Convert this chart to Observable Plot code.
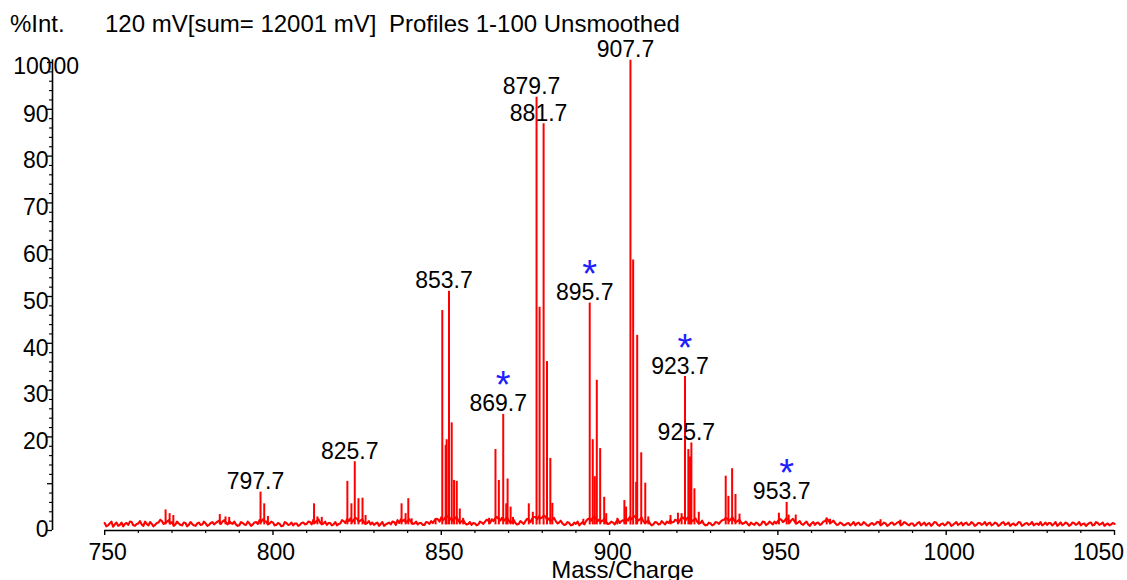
<!DOCTYPE html>
<html>
<head>
<meta charset="utf-8">
<script src="https://cdn.jsdelivr.net/npm/d3@7"></script>
<script src="https://cdn.jsdelivr.net/npm/@observablehq/plot@0.6"></script>
<style>
  body { margin: 0; background: #fff; font-family: "Liberation Sans", Arial, sans-serif; }
  #title { position: relative; width: 1127px; height: 40px; font-size: 24px; line-height: 24px; color: #000; }
  #title span { position: absolute; top: 11.5px; white-space: pre; }
  #chart svg { display: block; overflow: visible; }
</style>
</head>
<body>
<div id="title"><span style="left:10px">%Int.</span><span style="left:105px">120 mV[sum= 12001 mV]</span><span style="left:389px">Profiles 1-100 Unsmoothed</span></div>
<div id="chart"></div>
<script>
// ---- axis ticks ----
const xMajorTicks = [750, 800, 850, 900, 950, 1000, 1050];
const xLabelTicks = [750, 800, 850, 900, 950, 1000];
const xLastTick = [1050];
const xMinorTicks = [760, 770, 780, 790, 810, 820, 830, 840, 860, 870, 880, 890, 910, 920, 930, 940, 960, 970, 980, 990, 1010, 1020, 1030, 1040];
const yLabelTicks = [20, 30, 40, 50, 60, 70, 80, 90];
const yTopTick = [100];
const yZeroTick = [0];
const yMajorTicks = [0, 10, 20, 30, 40, 50, 60, 70, 80, 90, 100];
const yMinorTicks = [2, 4, 6, 8, 12, 14, 16, 18, 22, 24, 26, 28, 32, 34, 36, 38, 42, 44, 46, 48, 52, 54, 56, 58, 62, 64, 66, 68, 72, 74, 76, 78, 82, 84, 86, 88, 92, 94, 96, 98];

// ---- peaks (m/z, % intensity) ----
const peakMz = [768.1, 769.3, 770.4, 784.2, 785.9, 787.0, 796.3, 797.4, 798.5, 812.2, 813.2, 814.5,
  822.1, 823.3, 824.3, 825.4, 826.6, 827.5, 838.2, 839.4, 840.2, 841.2, 848.3,
  850.3, 851.3, 851.6, 852.3, 853.1, 853.8, 854.6, 855.5, 856.5, 864.2,
  866.1, 867.1, 868.4, 869.3, 869.7, 870.6, 871.3, 876.0, 877.2,
  878.3, 879.2, 880.4, 881.4, 882.4, 883.0, 892.2,
  894.1, 895.0, 895.6, 896.2, 897.2, 898.4, 899.0, 902.3, 904.4, 904.9,
  906.2, 907.0, 907.9, 908.2, 909.4, 910.6, 911.5, 918.1, 920.3, 921.4,
  922.4, 923.4, 923.9, 924.3, 925.2, 926.5, 934.5, 935.3, 936.4, 937.4, 938.6,
  950.3, 952.6, 953.2, 955.3, 964.5, 965.5, 980.5, 986.4];
const peakInt = [4.4, 3.6, 3.2, 3.4, 2.9, 2.8, 8.2, 5.7, 3.0, 5.7, 2.9, 2.8,
  10.5, 5.7, 14.7, 6.8, 6.9, 3.2, 5.7, 3.6, 6.8, 2.5, 2.5,
  47.0, 18.2, 19.4, 51.1, 23.0, 10.7, 10.5, 4.6, 2.6, 2.6,
  17.3, 10.7, 24.8, 5.7, 11.0, 5.0, 2.8, 5.7, 3.9,
  92.6, 47.7, 86.9, 36.1, 15.4, 5.8, 2.4,
  48.6, 19.4, 11.5, 32.1, 17.5, 7.1, 3.6, 2.6, 6.4, 5.0,
  100.5, 57.8, 10.3, 41.7, 16.6, 10.1, 2.9, 3.2, 3.7, 3.6,
  32.9, 17.3, 15.7, 18.7, 8.9, 3.9, 11.6, 7.3, 13.2, 7.7, 3.5,
  3.7, 6.0, 3.3, 3.3, 2.7, 2.4, 2.3, 2.2];

// ---- baseline noise: values at whole m/z units (750..1050) ----
const noiseStart = 750;
const noiseInt = [
  1.6,1.1,1.9,1.3,1.0,1.7,1.4,1.2,1.8,1.0,
  1.5,1.3,1.9,1.1,1.4,1.2,1.7,2.0,1.6,2.2,
  1.8,1.3,1.5,1.1,1.6,1.2,1.4,1.0,1.7,1.3,
  1.5,1.2,1.8,1.6,2.1,1.9,1.7,2.0,1.4,1.3,
  1.1,1.6,1.2,1.5,1.3,1.8,2.2,2.4,1.9,1.5,
  1.7,1.2,1.4,1.0,1.6,1.3,1.1,1.5,1.2,1.7,
  1.4,1.8,2.3,2.0,1.7,1.5,1.2,1.6,1.3,1.1,
  1.5,2.0,2.4,2.6,2.3,2.5,2.1,1.8,1.6,1.3,
  1.2,1.7,1.4,1.0,1.5,1.3,1.8,2.2,2.4,2.3,
  2.0,1.9,1.5,1.3,1.6,1.2,1.7,2.0,2.2,2.4,
  2.8,2.6,3.0,2.7,2.5,2.2,1.9,1.6,1.4,1.2,
  1.5,1.3,1.7,1.9,2.1,2.4,2.6,2.5,2.7,2.4,
  2.2,1.9,1.6,1.4,1.7,2.0,2.3,2.5,2.9,3.0,
  2.8,2.9,2.6,2.3,2.0,1.7,1.5,1.3,1.6,1.2,
  1.4,1.1,1.8,2.0,2.6,2.7,2.5,2.4,2.1,1.8,
  1.5,1.7,1.9,1.6,2.2,2.5,2.9,2.8,2.6,2.4,
  2.0,1.8,1.5,1.3,1.7,1.4,1.6,1.9,2.2,1.8,
  2.1,2.3,2.7,2.6,2.5,2.2,1.9,1.6,1.4,1.2,
  1.5,1.3,1.7,1.9,2.3,2.5,2.4,2.2,2.0,1.8,
  1.6,1.4,1.7,1.2,1.5,1.3,1.8,1.4,1.6,1.9,
  2.0,2.3,2.1,2.4,2.2,1.9,1.7,1.4,1.6,1.3,
  1.5,1.2,1.7,1.4,2.0,2.2,1.8,1.6,1.3,1.5,
  1.2,1.6,1.4,1.1,1.7,1.3,1.5,1.0,1.6,1.4,
  1.8,1.3,1.5,1.2,1.7,1.4,1.9,1.3,1.6,1.1,
  1.5,1.2,1.8,1.4,1.1,1.6,1.3,1.7,1.0,1.5,
  1.3,1.6,1.2,1.8,1.4,1.1,1.7,1.3,1.5,1.2,
  1.6,1.4,1.1,1.7,1.3,1.5,1.2,1.8,1.4,1.0,
  1.5,1.3,1.7,1.2,1.6,1.4,1.1,1.5,1.8,1.3,
  1.2,1.6,1.4,1.0,1.7,1.3,1.5,1.2,1.6,1.4,
  1.1,1.5,1.3,1.7,1.2,1.6,1.4,1.0,1.5,1.3,
  1.4];
// ---- baseline noise: values at half m/z units (750.5..1049.5) ----
const noiseHalfInt = [
  0.9,1.5,0.8,1.7,1.2,0.9,1.6,1.9,1.1,1.4,
  2.0,1.0,1.4,1.8,0.9,1.6,2.3,1.4,1.9,1.5,
  1.0,1.9,1.2,1.7,0.9,1.8,1.1,1.5,1.2,1.9,
  1.0,1.6,1.3,1.9,1.4,2.2,1.3,1.6,1.9,1.0,
  1.8,1.3,1.9,1.0,1.7,1.4,1.8,2.0,1.3,1.9,
  1.1,1.6,0.9,1.8,1.2,1.7,1.5,1.0,1.6,1.3,
  1.9,1.3,1.7,2.4,1.3,1.9,1.6,1.1,1.8,1.4,
  2.2,1.6,2.0,1.8,2.7,1.9,2.4,1.4,2.0,1.7,
  1.5,1.0,1.8,1.3,1.7,1.9,1.2,1.6,2.0,1.7,
  2.4,1.4,1.9,1.6,1.2,1.8,1.4,1.6,2.5,1.9,
  2.2,3.1,2.3,2.0,2.9,1.7,2.3,1.3,1.8,1.6,
  1.1,1.9,1.4,2.3,1.6,2.0,2.9,2.1,2.0,2.8,
  1.7,2.3,1.3,2.0,1.4,2.5,1.8,2.9,2.4,2.6,
  3.2,2.2,2.0,2.7,1.5,2.1,1.2,1.8,1.1,1.7,
  1.9,1.5,1.3,2.4,2.1,3.0,2.0,1.9,2.6,1.4,
  1.9,1.3,2.3,2.0,1.8,2.1,2.4,3.1,2.1,2.8,
  1.6,2.2,1.1,1.8,1.3,2.0,1.3,1.6,1.7,2.3,
  1.7,2.8,2.1,2.9,2.0,2.6,1.5,2.1,1.1,1.7,
  1.1,1.8,1.4,2.2,2.7,2.0,2.8,1.8,2.3,1.4,
  1.9,1.1,1.4,1.7,1.1,1.9,1.2,1.9,1.3,1.5,
  2.5,1.8,2.6,1.7,2.5,1.5,2.0,1.2,1.9,1.0,
  1.8,1.6,1.2,1.9,2.5,1.6,2.1,1.2,1.7,1.1,
  1.5,1.1,1.8,1.5,1.2,1.8,1.1,1.4,1.2,1.8,
  1.1,1.7,1.0,1.6,1.2,1.7,1.1,1.8,1.3,1.5,
  1.0,1.6,1.1,1.7,1.4,1.0,1.8,1.2,1.4,1.1,
  1.8,1.0,1.5,1.2,1.7,1.5,1.2,1.8,1.0,1.6,
  1.2,1.8,1.5,1.1,1.7,1.0,1.6,1.2,1.7,1.3,
  1.1,1.8,1.0,1.5,1.2,1.8,1.4,1.2,1.1,1.7,
  1.6,1.1,1.8,1.3,1.1,1.7,1.0,1.7,1.2,1.8,
  1.4,1.0,1.6,1.1,1.8,1.2,1.7,1.3,1.1,1.6];

// ---- peak annotations ----
const labelText = ["797.7", "825.7", "853.7", "869.7", "879.7", "881.7", "895.7", "907.7", "923.7", "925.7", "953.7"];
const labelMz   = [796.3, 824.3, 852.3, 868.4, 878.3, 880.4, 894.1, 906.2, 922.4, 924.3, 952.6];
const labelInt  = [8.2, 14.7, 51.1, 24.8, 92.6, 86.9, 48.6, 100.5, 32.9, 18.7, 6.0];
const starred   = ["869.7", "895.7", "923.7", "953.7"];

const xDomain = [734.5, 1050];
const yMax = 100.6;

const peaks = peakMz.map((m, i) => ({m, h: peakInt[i]}));
const noise = noiseInt.map((v, i) => ({m: noiseStart + i, v}))
  .concat(noiseHalfInt.map((v, i) => ({m: noiseStart + 0.5 + i, v})))
  .sort((a, b) => a.m - b.m);
const labels = labelText.map((t, i) => ({t, m: labelMz[i], h: labelInt[i]}));
const stars = labels.filter(d => starred.includes(d.t));
const plain = d => String(d);

const chart = Plot.plot({
  width: 1127,
  height: 540,
  marginLeft: 52,
  marginRight: 13,
  marginTop: 19.2,
  marginBottom: 50,
  style: {fontFamily: "'Liberation Sans', Arial, sans-serif", fontSize: "23px", background: "#fff", color: "#000", overflow: "visible"},
  x: {domain: xDomain},
  y: {domain: [0, yMax]},
  marks: [
    // baseline noise
    Plot.line(noise, {x: "m", y: "v", stroke: "#ff0000", strokeWidth: 2.1}),
    // peaks
    Plot.ruleX(peaks, {x: "m", y1: 1.2, y2: "h", stroke: "#ff0000", strokeWidth: 2}),
    // axes lines
    Plot.ruleY([0], {x1: xMajorTicks[0], x2: xMajorTicks[xMajorTicks.length - 1], stroke: "#000", strokeWidth: 1.6}),
    Plot.ruleX([xDomain[0]], {y1: 0, y2: yMax, stroke: "#000", strokeWidth: 1.6}),
    // x axis
    Plot.axisX({ticks: xMajorTicks, tickSize: 5, tickFormat: () => "", label: null, strokeWidth: 1.4}),
    Plot.axisX({ticks: xMinorTicks, tickSize: 3, tickFormat: () => "", label: null, strokeWidth: 1.2}),
    Plot.axisX({ticks: xLabelTicks, tickSize: 0, tickPadding: 13, dx: 3, tickFormat: plain, label: null}),
    Plot.axisX({ticks: xLastTick, tickSize: 0, tickPadding: 13, dx: -16, tickFormat: plain, label: null}),
    // y axis
    Plot.axisY({ticks: yMajorTicks, tickSize: 5, tickFormat: () => "", label: null, strokeWidth: 1.3}),
    Plot.axisY({ticks: yMinorTicks, tickSize: 3, tickFormat: () => "", label: null, strokeWidth: 1.1}),
    Plot.axisY({ticks: yLabelTicks, tickSize: 0, tickPadding: 4, dy: 5, tickFormat: plain, label: null}),
    Plot.axisY({ticks: yTopTick, tickSize: 0, tickPadding: 1, dy: 4, tickFormat: plain, label: null}),
    Plot.axisY({ticks: yZeroTick, tickSize: 0, tickPadding: 4, dy: -1, tickFormat: plain, label: null}),
    Plot.text(["00"], {frameAnchor: "left", y: yTopTick, textAnchor: "start", dx: 1, dy: 4, fill: "#000"}),
    // peak labels
    Plot.text(labels, {x: "m", y: "h", text: "t", lineAnchor: "bottom", dx: -5, dy: -3, fill: "#000"}),
    Plot.text(stars, {x: "m", y: "h", text: () => "*", lineAnchor: "bottom", dy: -16, fontSize: 38, fill: "#2020ff"}),
    // x axis title
    Plot.text(["Mass/Charge"], {frameAnchor: "bottom", dx: 39, dy: 47, lineAnchor: "bottom", fontSize: 24, fill: "#000"})
  ]
});
document.getElementById("chart").appendChild(chart);
</script>
</body>
</html>
